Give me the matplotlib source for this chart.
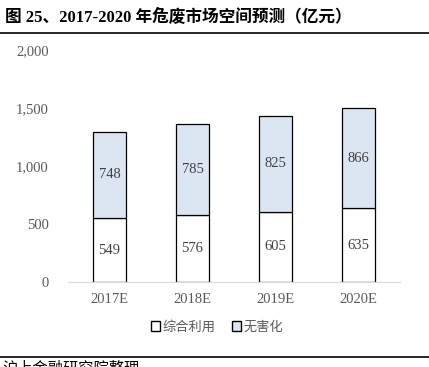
import matplotlib.pyplot as plt
from matplotlib.patches import Patch
from matplotlib.lines import Line2D

years = ['2017E', '2018E', '2019E', '2020E']
zonghe = [549, 576, 605, 635]
wuhai = [748, 785, 825, 866]
yticks = [0, 500, 1000, 1500, 2000]

plt.rcParams['font.family'] = ['Liberation Serif', 'Noto Sans CJK SC', 'DejaVu Sans']

fig = plt.figure(figsize=(4.29, 3.67), dpi=100)
ax = fig.add_axes([68 / 429, 1 - 282 / 367, 332 / 429, 232 / 367])

x = range(len(years))
blue = '#dce6f2'
ax.bar(x, zonghe, width=0.4, color='white', edgecolor='black', linewidth=0.9)
ax.bar(x, wuhai, width=0.4, bottom=zonghe, color=blue, edgecolor='black', linewidth=0.9)

for i in x:
    ax.text(i, zonghe[i] / 2, str(zonghe[i]), ha='center', va='center', fontsize=10.5, color='#404040')
    ax.text(i, zonghe[i] + wuhai[i] / 2, str(wuhai[i]), ha='center', va='center', fontsize=10.5, color='#404040')

ax.set_xlim(-0.5, 3.5)
ax.set_ylim(0, 2000)
ax.set_yticks(yticks)
ax.set_yticklabels(['{:,}'.format(v) for v in yticks])
ax.set_xticks(list(x))
ax.set_xticklabels(years)
ax.tick_params(axis='both', length=0, labelsize=10.5, colors='#595959', pad=8)
ax.tick_params(axis='y', pad=14)
for s in ['top', 'right', 'left']:
    ax.spines[s].set_visible(False)
ax.spines['bottom'].set_color('#d9d9d9')

handles = [Patch(facecolor='white', edgecolor='black', linewidth=1),
           Patch(facecolor=blue, edgecolor='black', linewidth=1)]
leg = fig.legend(handles, ['综合利用', '无害化'], loc='center', bbox_to_anchor=(217 / 429, 1 - 327 / 367),
                 ncol=2, frameon=False, handlelength=0.7, handleheight=0.7, handletextpad=0.2,
                 columnspacing=1.2, prop={'family': ['Noto Sans CJK SC'], 'size': 9.5})
for t in leg.get_texts():
    t.set_color('#595959')

fig.text(5 / 429, 1 - 17 / 367, '图 25、2017-2020 年危废市场空间预测（亿元）', fontsize=12,
         fontweight='bold', va='center', ha='left')
fig.add_artist(Line2D([0, 1], [1 - 33 / 367, 1 - 33 / 367], color='black', linewidth=1.2))
fig.add_artist(Line2D([0, 1], [1 - 357 / 367, 1 - 357 / 367], color='black', linewidth=1.2))
fig.text(2 / 429, 1 - 368 / 367, '沪上金融研究院整理', fontsize=11, va='center', ha='left',
         family=['Noto Sans CJK SC'])

fig.savefig('out.png', dpi=100)
